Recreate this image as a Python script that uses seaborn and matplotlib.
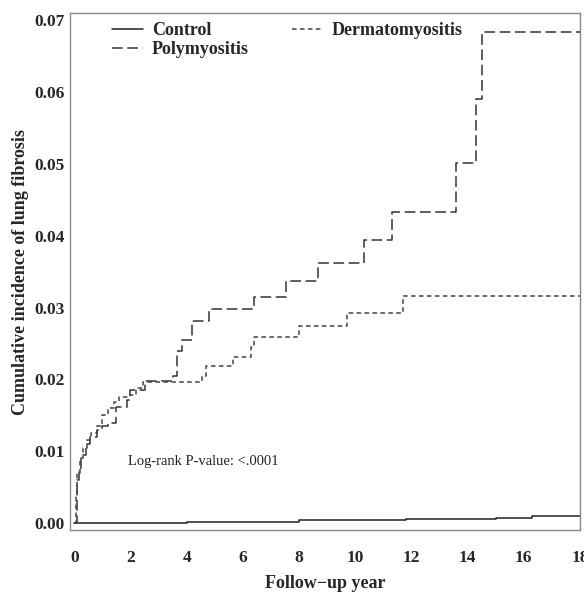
import pandas as pd
import matplotlib
matplotlib.use('Agg')
import matplotlib.pyplot as plt
import seaborn as sns

# follow-up time (years) and cumulative incidence
ctrl_t = [0, 4.0, 8.0, 11.8, 15.0, 16.3, 18.0]
ctrl_v = [0, 0.0002, 0.0004, 0.0006, 0.0007, 0.0010, 0.0010]

poly_t = [0, 0.08, 0.15, 0.25, 0.4, 0.55, 0.8, 1.0, 1.2, 1.5, 1.87, 2.0, 2.5,
          3.5, 3.65, 3.85, 4.2, 4.8, 6.4, 7.55, 8.66, 10.3, 11.3, 13.6, 14.3, 14.5, 18.0]
poly_v = [0, 0.006, 0.0075, 0.0095, 0.011, 0.012, 0.013, 0.0135, 0.0139, 0.0162, 0.0171, 0.0185, 0.0198,
          0.0205, 0.024, 0.0255, 0.0281, 0.0298, 0.0315, 0.0337, 0.0362, 0.0394, 0.0433, 0.0501, 0.059, 0.0684, 0.0684]

derm_t = [0, 0.05, 0.1, 0.2, 0.3, 0.45, 0.6, 0.8, 1.0, 1.2, 1.4, 1.6, 2.0, 2.2, 2.45,
          4.55, 4.7, 5.65, 6.3, 6.4, 8.0, 9.7, 11.7, 18.0]
derm_v = [0, 0.004, 0.007, 0.009, 0.0105, 0.0115, 0.0125, 0.0135, 0.015, 0.016, 0.0168, 0.0175, 0.0178, 0.0188, 0.0196,
          0.0205, 0.0219, 0.0231, 0.0245, 0.0259, 0.0274, 0.0293, 0.0316, 0.0316]

groups = ['Control', 'Polymyositis', 'Dermatomyositis']

df = pd.concat([
    pd.DataFrame({'year': ctrl_t, 'cum': ctrl_v, 'group': 'Control'}),
    pd.DataFrame({'year': poly_t, 'cum': poly_v, 'group': 'Polymyositis'}),
    pd.DataFrame({'year': derm_t, 'cum': derm_v, 'group': 'Dermatomyositis'}),
])

sns.set_style('white')
plt.rcParams['font.family'] = ['Liberation Serif', 'DejaVu Serif']

fig = plt.figure(figsize=(5.84, 5.93), dpi=100)
ax = fig.add_axes([0.12, 0.106, 0.873, 0.872])

sns.lineplot(data=df, x='year', y='cum', hue='group', style='group',
             hue_order=groups, style_order=groups,
             palette={'Control': '#222222', 'Polymyositis': '#333333', 'Dermatomyositis': '#444444'},
             dashes={'Control': '', 'Polymyositis': (7, 3), 'Dermatomyositis': (3, 2.2)},
             drawstyle='steps-post', linewidth=1.1, estimator=None, ax=ax)

ax.set_xlim(-0.15, 18)
ax.set_ylim(-0.001, 0.071)
ax.set_xticks(range(0, 19, 2))
ax.set_yticks([0.00, 0.01, 0.02, 0.03, 0.04, 0.05, 0.06, 0.07])
ax.set_yticklabels(['0.00', '0.01', '0.02', '0.03', '0.04', '0.05', '0.06', '0.07'])
ax.tick_params(axis='both', length=0, labelsize=12.5)
ax.tick_params(axis='x', pad=14)
ax.tick_params(axis='y', pad=4)
for lab in ax.get_xticklabels() + ax.get_yticklabels():
    lab.set_fontweight('bold')
for sp in ax.spines.values():
    sp.set_color('#888888')
    sp.set_linewidth(1.0)

ax.set_xlabel('Follow\u2212up year', fontsize=13, fontweight='bold', labelpad=7)
ax.set_ylabel('Cumulative incidence of lung fibrosis', fontsize=13, fontweight='bold', labelpad=4)

ax.text(1.9, 0.0085, 'Log-rank P-value: <.0001', fontsize=10.5, va='center', ha='left', color='#222222')

handles, labels = ax.get_legend_handles_labels()
leg = ax.legend(handles, labels, ncol=2, loc='upper left', bbox_to_anchor=(0.065, 1.0),
                frameon=False, fontsize=13, handlelength=1.7, handletextpad=0.5,
                columnspacing=2.4, labelspacing=0.1, borderaxespad=0.1)
for t in leg.get_texts():
    t.set_fontweight('bold')

plt.savefig('out.png', dpi=100)
